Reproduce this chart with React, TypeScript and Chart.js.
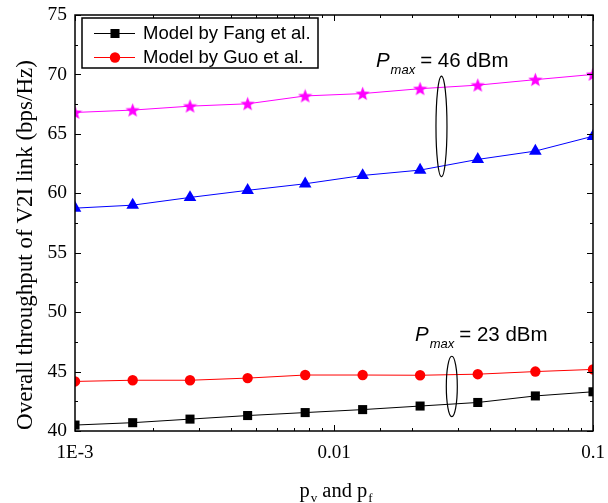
import React, { useEffect, useRef } from "react";
import { Chart, registerables } from "chart.js";
Chart.register(...registerables);

// ---- data ----
const xValues = [0.001, 0.00167, 0.00278, 0.00464, 0.00774, 0.0129, 0.0215, 0.0359, 0.0599, 0.1];
const fang23 = [40.5, 40.7, 41.0, 41.3, 41.55, 41.8, 42.1, 42.4, 42.95, 43.3];
const guo23 = [44.17, 44.27, 44.27, 44.45, 44.71, 44.71, 44.69, 44.78, 45.0, 45.18];
const fang46 = [58.75, 59.0, 59.65, 60.25, 60.8, 61.5, 61.95, 62.85, 63.55, 64.8];
const guo46 = [66.8, 67.0, 67.33, 67.53, 68.19, 68.39, 68.8, 69.1, 69.56, 70.0];
const seriesLabels = ["Model by Fang et al.", "Model by Guo et al.", "Fang 46", "Guo 46"];
const legendCount = 2;
const xTickLabels: Record<string, string> = { "-3": "1E-3", "-2": "0.01", "-1": "0.1" };
const yMin = 40;
const yMax = 75;
const yStep = 5;
const yTitle = "Overall throughput of V2I link (bps/Hz)";
const annotations = [
  { x: 0.01452, y: 70.6, power: "= 46 dBm", ex: 0.026, eTop: 69.86, eBottom: 61.39 },
  { x: 0.02056, y: 47.6, power: "= 23 dBm", ex: 0.0285, eTop: 46.29, eBottom: 41.21 },
];

const SERIF = "'Liberation Serif', 'Times New Roman', serif";
const SANS = "'Liberation Sans', Arial, sans-serif";

function makeStar(color: string, size: number) {
  const c = document.createElement("canvas");
  c.width = size;
  c.height = size;
  const g = c.getContext("2d")!;
  const cx = size / 2, cy = size / 2 + 0.5;
  const R = size / 2, r = R * 0.42;
  g.beginPath();
  for (let i = 0; i < 10; i++) {
    const ang = -Math.PI / 2 + (i * Math.PI) / 5;
    const rad = i % 2 === 0 ? R : r;
    const px = cx + rad * Math.cos(ang), py = cy + rad * Math.sin(ang);
    if (i === 0) g.moveTo(px, py); else g.lineTo(px, py);
  }
  g.closePath();
  g.fillStyle = color;
  g.fill();
  return c;
}

function drawPointStyle(ctx: CanvasRenderingContext2D, style: any, r: number, cx: number, cy: number) {
  if (typeof style !== "string") {
    ctx.drawImage(style, cx - style.width / 2, cy - style.height / 2);
    return;
  }
  ctx.beginPath();
  if (style === "circle") {
    ctx.arc(cx, cy, r, 0, Math.PI * 2);
  } else if (style === "rect") {
    const s = Math.SQRT1_2 * r;
    ctx.rect(cx - s, cy - s, 2 * s, 2 * s);
  } else if (style === "triangle") {
    for (let i = 0; i < 3; i++) {
      const ang = -Math.PI / 2 + (i * 2 * Math.PI) / 3;
      const px = cx + r * Math.cos(ang), py = cy + r * Math.sin(ang);
      if (i === 0) ctx.moveTo(px, py); else ctx.lineTo(px, py);
    }
    ctx.closePath();
  }
  ctx.fill();
}

const decorPlugin = {
  id: "decor",
  afterDatasetsDraw(chart: any) {
    const { ctx, chartArea: a, scales } = chart;
    const x = scales.x, y = scales.y;
    ctx.save();
    // frame
    ctx.strokeStyle = "#000";
    ctx.lineWidth = 1.5;
    ctx.strokeRect(a.left, a.top, a.right - a.left, a.bottom - a.top);
    // x ticks (inward, bottom and top)
    ctx.lineWidth = 1;
    for (const t of x.ticks) {
      const v = t.value;
      const l = Math.log10(v);
      const major = Math.abs(l - Math.round(l)) < 1e-6;
      const len = major ? 6 : 3;
      const px = Math.round(x.getPixelForValue(v)) + 0.5;
      ctx.beginPath();
      ctx.moveTo(px, a.bottom);
      ctx.lineTo(px, a.bottom - len);
      ctx.moveTo(px, a.top);
      ctx.lineTo(px, a.top + len);
      ctx.stroke();
    }
    // y ticks
    for (let v = yMin; v <= yMax + 1e-9; v += yStep / 2) {
      const major = Math.abs(v / yStep - Math.round(v / yStep)) < 1e-6;
      const len = major ? 6 : 3;
      const py = Math.round(y.getPixelForValue(v)) + 0.5;
      ctx.beginPath();
      ctx.moveTo(a.left, py);
      ctx.lineTo(a.left + len, py);
      ctx.moveTo(a.right, py);
      ctx.lineTo(a.right - len, py);
      ctx.stroke();
    }
    // legend
    const lx = 82, ly = 18, lw = 236, lh = 50;
    ctx.fillStyle = "#fff";
    ctx.fillRect(lx, ly, lw, lh);
    ctx.strokeStyle = "#000";
    ctx.lineWidth = 1.5;
    ctx.strokeRect(lx, ly, lw, lh);
    const dsets = chart.data.datasets;
    for (let i = 0; i < legendCount; i++) {
      const ds = dsets[i];
      const ry = 33 + i * 24;
      ctx.strokeStyle = ds.borderColor;
      ctx.lineWidth = 1;
      ctx.beginPath();
      ctx.moveTo(94, ry + 0.5);
      ctx.lineTo(135, ry + 0.5);
      ctx.stroke();
      ctx.fillStyle = ds.backgroundColor;
      drawPointStyle(ctx, ds.pointStyle, ds.pointRadius, 115, ry + 0.5);
      ctx.fillStyle = "#000";
      ctx.font = `18.5px ${SANS}`;
      ctx.textBaseline = "middle";
      ctx.textAlign = "left";
      ctx.fillText(ds.label, 143, ry + 1);
    }
    // annotations
    ctx.fillStyle = "#000";
    ctx.strokeStyle = "#000";
    for (const an of annotations) {
      const px = x.getPixelForValue(an.x);
      const py = y.getPixelForValue(an.y);
      ctx.textBaseline = "alphabetic";
      ctx.textAlign = "left";
      ctx.font = `italic 20.5px ${SANS}`;
      ctx.fillText("P", px, py);
      let cx = px + ctx.measureText("P").width + 1;
      ctx.font = `italic 13px ${SANS}`;
      ctx.fillText("max", cx, py + 7);
      cx += ctx.measureText("max").width + 5;
      ctx.font = `20.5px ${SANS}`;
      ctx.fillText(an.power, cx, py);
      const ex = x.getPixelForValue(an.ex);
      const et = y.getPixelForValue(an.eTop);
      const eb = y.getPixelForValue(an.eBottom);
      ctx.lineWidth = 1.2;
      ctx.beginPath();
      ctx.ellipse(ex, (et + eb) / 2, 5.5, (eb - et) / 2, 0, 0, Math.PI * 2);
      ctx.stroke();
    }
    // y title
    ctx.save();
    ctx.translate(26, 245);
    ctx.rotate(-Math.PI / 2);
    ctx.font = `23px ${SERIF}`;
    ctx.textAlign = "center";
    ctx.textBaseline = "middle";
    ctx.fillStyle = "#000";
    ctx.fillText(yTitle, 0, 0);
    ctx.restore();
    // x title: p_v and p_f
    const parts: [string, boolean][] = [["p", false], ["v", true], [" and p", false], ["f", true]];
    const mainF = `20.5px ${SERIF}`, subF = `13px ${SERIF}`;
    let total = 0;
    for (const [s, sub] of parts) {
      ctx.font = sub ? subF : mainF;
      total += ctx.measureText(s).width + (sub ? 1 : 0);
    }
    let tx = (a.left + a.right) / 2 - total / 2 + 2;
    const base = 497;
    ctx.textAlign = "left";
    ctx.textBaseline = "alphabetic";
    for (const [s, sub] of parts) {
      ctx.font = sub ? subF : mainF;
      ctx.fillText(s, tx + (sub ? 1 : 0), sub ? base + 5 : base);
      tx += ctx.measureText(s).width + (sub ? 1 : 0);
    }
    ctx.restore();
  },
};

export default function App() {
  const ref = useRef<HTMLCanvasElement | null>(null);
  useEffect(() => {
    if (!ref.current) return;
    const star = makeStar("#ff00ff", 15);
    const mk = (label: string, data: number[], color: string, style: any, radius: number) => ({
      label,
      data: data.map((v, i) => ({ x: xValues[i], y: v })),
      borderColor: color,
      backgroundColor: color,
      borderWidth: 1,
      pointStyle: style,
      pointRadius: radius,
      pointBorderWidth: 0,
      pointBackgroundColor: color,
      pointBorderColor: color,
      tension: 0,
      clip: 0,
    });
    const chart = new Chart(ref.current, {
      type: "line",
      data: {
        datasets: [
          mk(seriesLabels[0], fang23, "#000000", "rect", 6.4),
          mk(seriesLabels[1], guo23, "#ff0000", "circle", 5.2),
          mk(seriesLabels[2], fang46, "#0000ff", "triangle", 7.3),
          mk(seriesLabels[3], guo46, "#ff00ff", star, 7),
        ] as any,
      },
      options: {
        responsive: false,
        animation: false,
        devicePixelRatio: 1,
        layout: { padding: { left: 0, top: 15, right: 15, bottom: 0 } },
        plugins: { legend: { display: false }, tooltip: { enabled: false } },
        scales: {
          x: {
            type: "logarithmic",
            min: 0.001,
            max: 0.1,
            grid: { display: false, drawTicks: false },
            border: { display: false },
            afterFit: (s: any) => { s.height = 72; s.paddingLeft = 0; s.paddingRight = 0; },
            ticks: {
              autoSkip: false,
              maxRotation: 0,
              padding: 11,
              color: "#000",
              font: { family: SERIF, size: 19 },
              callback: (v: any) => {
                const l = Math.log10(Number(v));
                if (Math.abs(l - Math.round(l)) < 1e-6) return xTickLabels[String(Math.round(l))] ?? "";
                return "";
              },
            },
          },
          y: {
            min: yMin,
            max: yMax,
            grid: { display: false, drawTicks: false },
            border: { display: false },
            afterFit: (s: any) => { s.width = 75; s.paddingTop = 0; s.paddingBottom = 0; },
            ticks: {
              stepSize: yStep,
              padding: 8,
              color: "#000",
              font: { family: SERIF, size: 19.5 },
            },
          },
        },
      },
      plugins: [decorPlugin],
    });
    return () => chart.destroy();
  }, []);
  return (
    <div style={{ position: "absolute", left: 0, top: 0 }}>
      <canvas ref={ref} width={608} height={503} />
    </div>
  );
}
